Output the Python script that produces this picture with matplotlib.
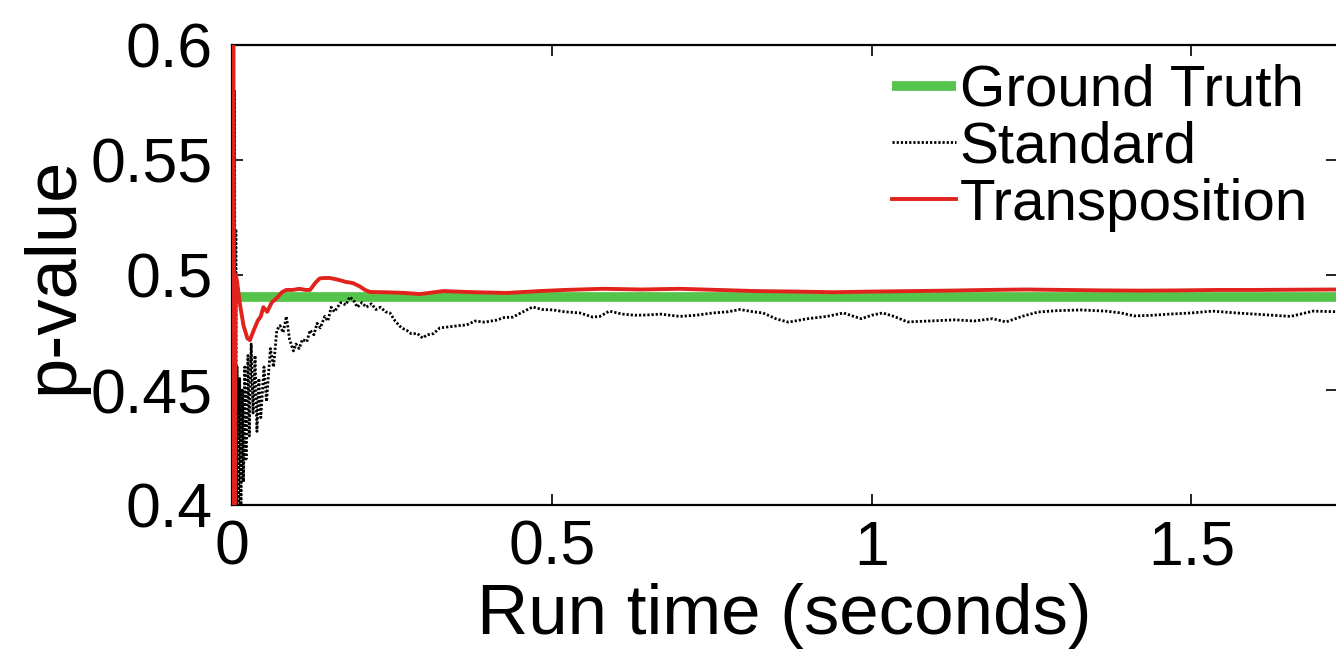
import matplotlib
matplotlib.use("Agg")
import matplotlib.pyplot as plt

plt.rcParams['font.family'] = ['Liberation Sans', 'DejaVu Sans']

# ---- data ----
truth_x = [0.0, 1.75]
truth_y = [0.4905, 0.4905]

standard_x = [0.001, 0.002, 0.003, 0.004, 0.005, 0.006, 0.007, 0.008, 0.010, 0.012,
              0.014, 0.016, 0.018, 0.020, 0.022, 0.025, 0.027, 0.030, 0.033, 0.036,
              0.039, 0.042, 0.045, 0.050, 0.054, 0.060, 0.065, 0.070, 0.075, 0.080,
              0.085, 0.090, 0.096, 0.100, 0.105, 0.110, 0.117, 0.122, 0.128, 0.133,
              0.138, 0.145, 0.150, 0.155, 0.160, 0.170, 0.178, 0.184, 0.190, 0.196,
              0.203, 0.210, 0.218, 0.225, 0.232, 0.240, 0.247, 0.255, 0.265, 0.273,
              0.280, 0.290, 0.298, 0.305, 0.315, 0.325, 0.340, 0.355, 0.367, 0.380,
              0.395, 0.414, 0.425, 0.439, 0.455, 0.470, 0.485, 0.502, 0.520, 0.544,
              0.564, 0.575, 0.590, 0.610, 0.630, 0.648, 0.670, 0.700, 0.725, 0.752,
              0.775, 0.794, 0.815, 0.830, 0.851, 0.870, 0.900, 0.930, 0.956, 0.970,
              0.984, 1.000, 1.017, 1.035, 1.056, 1.090, 1.130, 1.160, 1.189, 1.210,
              1.235, 1.260, 1.290, 1.327, 1.366, 1.390, 1.410, 1.440, 1.466, 1.500,
              1.533, 1.570, 1.610, 1.655, 1.690, 1.730]
standard_y = [0.400, 0.600, 0.420, 0.580, 0.400, 0.520, 0.400, 0.460, 0.400, 0.455,
              0.400, 0.450, 0.410, 0.460, 0.420, 0.465, 0.430, 0.470, 0.440, 0.465,
              0.432, 0.455, 0.438, 0.460, 0.445, 0.468, 0.460, 0.476, 0.478, 0.475,
              0.482, 0.472, 0.467, 0.470, 0.468, 0.472, 0.471, 0.476, 0.474, 0.479,
              0.477, 0.482, 0.480, 0.486, 0.484, 0.488, 0.487, 0.4905, 0.489, 0.486,
              0.488, 0.486, 0.4875, 0.485, 0.486, 0.484, 0.4835, 0.480, 0.477, 0.476,
              0.4745, 0.4745, 0.4726, 0.474, 0.4745, 0.477, 0.4775, 0.478, 0.4783, 0.480,
              0.4795, 0.4804, 0.4815, 0.4817, 0.484, 0.4861, 0.485, 0.4848, 0.484, 0.4835,
              0.4817, 0.482, 0.4843, 0.483, 0.4825, 0.4826, 0.483, 0.482, 0.4825, 0.4835,
              0.484, 0.485, 0.484, 0.4835, 0.4809, 0.4795, 0.481, 0.482, 0.4835, 0.4822,
              0.481, 0.4825, 0.4835, 0.482, 0.4796, 0.480, 0.4805, 0.480, 0.481, 0.4796,
              0.482, 0.4839, 0.4845, 0.4848, 0.4843, 0.4835, 0.4822, 0.4825, 0.483, 0.4835,
              0.4843, 0.4835, 0.4828, 0.482, 0.4843, 0.484]

transp_x = [0.000, 0.002, 0.004, 0.006, 0.008, 0.012, 0.018, 0.024, 0.028, 0.034,
            0.040, 0.045, 0.049, 0.055, 0.062, 0.070, 0.078, 0.085, 0.095, 0.105,
            0.115, 0.122, 0.130, 0.137, 0.143, 0.153, 0.165, 0.178, 0.189, 0.200,
            0.208, 0.216, 0.240, 0.270, 0.294, 0.330, 0.380, 0.430, 0.480, 0.520,
            0.580, 0.640, 0.700, 0.760, 0.820, 0.880, 0.940, 1.000, 1.060, 1.120,
            1.180, 1.240, 1.300, 1.360, 1.420, 1.480, 1.540, 1.600, 1.660, 1.730]
transp_y = [0.400, 0.600, 0.400, 0.500, 0.497, 0.488, 0.478, 0.4725, 0.4717, 0.476,
            0.480, 0.482, 0.486, 0.484, 0.488, 0.490, 0.4925, 0.4935, 0.4935, 0.494,
            0.4935, 0.4935, 0.4965, 0.4985, 0.4987, 0.4987, 0.498, 0.497, 0.4965, 0.495,
            0.4935, 0.4926, 0.4925, 0.4922, 0.4917, 0.493, 0.4925, 0.4922, 0.493, 0.4935,
            0.494, 0.4937, 0.494, 0.4935, 0.493, 0.4928, 0.4925, 0.4928, 0.493, 0.4932,
            0.4935, 0.4937, 0.4935, 0.4933, 0.4932, 0.4933, 0.4935, 0.4935, 0.4936, 0.4937]

labels = ["Ground Truth", "Standard", "Transposition"]
xticks = [0, 0.5, 1, 1.5]
xtick_labels = ["0", "0.5", "1", "1.5"]
yticks = [0.4, 0.45, 0.5, 0.55, 0.6]
ytick_labels = ["0.4", "0.45", "0.5", "0.55", "0.6"]

W, H = 1336, 652
fig = plt.figure(figsize=(W / 100, H / 100), dpi=100)
ax = fig.add_axes([232 / W, 1 - 505 / H, (W - 232) / W + 0.001, (505 - 45) / H])

ax.plot(truth_x, truth_y, color='#55C44A', lw=7, label=labels[0], zorder=2, solid_capstyle='butt')
ax.plot(standard_x, standard_y, color='black', lw=2.0, ls=(0, (0.8, 0.7)), label=labels[1], zorder=3)
ax.plot(transp_x, transp_y, color='#E0231C', lw=2.8, label=labels[2], zorder=4)

ax.set_xlim(0, 1.728)
ax.set_ylim(0.4, 0.6)
ax.set_xticks(xticks)
ax.set_xticklabels(xtick_labels)
ax.set_yticks(yticks)
ax.set_yticklabels(ytick_labels)
ax.tick_params(direction='in', length=8, width=1.2, labelsize=45, pad=10,
               top=True, right=True)
ax.tick_params(axis='y', pad=14)
for s in ax.spines.values():
    s.set_linewidth(1.6)

ax.set_xlabel("Run time (seconds)", fontsize=51, labelpad=4)
ax.set_ylabel("p-value", fontsize=52, labelpad=2)

leg = ax.legend(loc='upper left', bbox_to_anchor=(892 / W, 1 - 64 / H),
                bbox_transform=fig.transFigure, frameon=False, fontsize=42,
                handlelength=1.1, handletextpad=0.06, labelspacing=0.05,
                borderpad=0, borderaxespad=0)

fig.savefig("out.png", dpi=100)
